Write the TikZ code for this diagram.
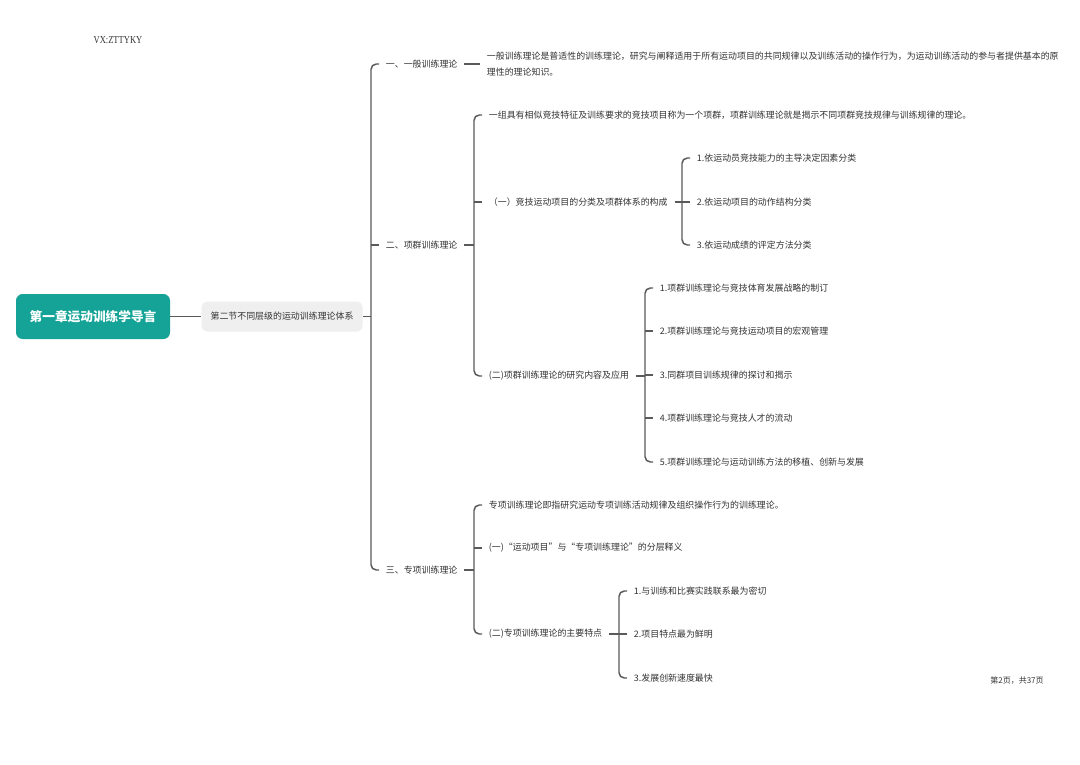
\documentclass[tikz,border=0pt]{standalone}
\usepackage{fontspec}
\setmainfont{Noto Sans CJK SC}
\newfontfamily\markfont[FakeStretch=0.8]{Liberation Serif}
\usetikzlibrary{positioning}
\definecolor{MapTeal}{HTML}{14A396}
\definecolor{MapGray}{HTML}{EFEFEF}
\definecolor{LinkGray}{HTML}{5A5A5A}
\definecolor{InkGray}{HTML}{333333}

\begin{document}
\begin{tikzpicture}[
  x=0.75pt, y=-0.75pt,
  node distance=23.25pt,
  rootbox/.style={rectangle, rounded corners=5pt, fill=MapTeal, text=white, font=\fontsize{9.5}{11}\selectfont\bfseries, minimum width=115.5pt, minimum height=33.75pt, inner sep=0pt},
  sectbox/.style={rectangle, rounded corners=4pt, fill=MapGray, text=InkGray, font=\fontsize{6.7}{8}\selectfont, minimum width=120.75pt, minimum height=22.5pt, inner sep=0pt},
  leaf/.style={anchor=west, text=InkGray, font=\fontsize{6.7}{12}\selectfont, inner xsep=5pt, inner ysep=2pt, align=left},
  link/.style={draw=LinkGray, line width=1.1pt},
  fork/.style={link, rounded corners=4pt},
]
\useasboundingbox (0,0) rectangle (1080,764);
\fill[white] (0,0) rectangle (1080,764);

% marks on the page
\node[text=InkGray, font=\markfont\fontsize{8}{9}\selectfont] (wm) at (118,40) {VX:ZTTYKY};
\node[text=InkGray, font=\fontsize{6}{7}\selectfont] (pg) at (1017,681) {第2页，共37页};

% root and section
\node[rootbox] (root) at (93,316.5) {第一章运动训练学导言};
\node[sectbox, right=of root] (sec) {第二节不同层级的运动训练理论体系};

% bracket columns
\coordinate (k0) at (371,0);
\coordinate (k2) at (474,0);
\coordinate (k2b) at (682,0);
\coordinate (k2c) at (645,0);
\coordinate (k3) at (474,0);
\coordinate (k3c) at (619,0);

% first level
\node[leaf] (g1) at (379,64) {一、一般训练理论};
\node[leaf] (g2) at (379,245) {二、项群训练理论};
\node[leaf] (g3) at (379,570) {三、专项训练理论};

% general theory
\node[leaf] (g1a) at (480,64) {一般训练理论是普适性的训练理论，研究与阐释适用于所有运动项目的共同规律以及训练活动的操作行为，为运动训练活动的参与者提供基本的原\\理性的理论知识。};

% group theory
\node[leaf] (g2a) at (482,115) {一组具有相似竞技特征及训练要求的竞技项目称为一个项群，项群训练理论就是揭示不同项群竞技规律与训练规律的理论。};
\node[leaf] (g2b) at (482,202) {（一）竞技运动项目的分类及项群体系的构成};
\node[leaf] (g2c) at (482,376) {(二)项群训练理论的研究内容及应用};

\node[leaf] (g2b1) at (690,158) {1.依运动员竞技能力的主导决定因素分类};
\node[leaf] (g2b2) at (690,202) {2.依运动项目的动作结构分类};
\node[leaf] (g2b3) at (690,245) {3.依运动成绩的评定方法分类};

\node[leaf] (g2c1) at (653,288) {1.项群训练理论与竞技体育发展战略的制订};
\node[leaf] (g2c2) at (653,331) {2.项群训练理论与竞技运动项目的宏观管理};
\node[leaf] (g2c3) at (653,375) {3.同群项目训练规律的探讨和揭示};
\node[leaf] (g2c4) at (653,418) {4.项群训练理论与竞技人才的流动};
\node[leaf] (g2c5) at (653,462) {5.项群训练理论与运动训练方法的移植、创新与发展};

% special theory
\node[leaf] (g3a) at (482,505) {专项训练理论即指研究运动专项训练活动规律及组织操作行为的训练理论。};
\node[leaf] (g3b) at (482,548) {(一)“运动项目”与“专项训练理论”的分层释义};
\node[leaf] (g3c) at (482,634) {(二)专项训练理论的主要特点};

\node[leaf] (g3c1) at (627,591) {1.与训练和比赛实践联系最为密切};
\node[leaf] (g3c2) at (627,634) {2.项目特点最为鲜明};
\node[leaf] (g3c3) at (627,678) {3.发展创新速度最快};

% connectors
\draw[link] (root) -- (sec);
\draw[link] (sec.east) -- (sec.east -| k0);
\draw[fork] (g1.west) -- ++(-8,0) |- (g3.west);
\draw[link] (g2.west) -- ++(-8,0);

\draw[link] (g1.east) -- (g1a.west);

\draw[link] (g2.east) -- (g2.east -| k2);
\draw[fork] (g2a.west) -- ++(-8,0) |- (g2c.west);
\draw[link] (g2b.west) -- ++(-8,0);

\draw[link] (g2b.east) -- (g2b.east -| k2b);
\draw[fork] (g2b1.west) -- ++(-8,0) |- (g2b3.west);
\draw[link] (g2b2.west) -- ++(-8,0);

\draw[link] (g2c.east) -- (g2c.east -| k2c);
\draw[fork] (g2c1.west) -- ++(-8,0) |- (g2c5.west);
\foreach \c in {g2c2,g2c3,g2c4}
  \draw[link] (\c.west) -- ++(-8,0);

\draw[link] (g3.east) -- (g3.east -| k3);
\draw[fork] (g3a.west) -- ++(-8,0) |- (g3c.west);
\draw[link] (g3b.west) -- ++(-8,0);

\draw[link] (g3c.east) -- (g3c.east -| k3c);
\draw[fork] (g3c1.west) -- ++(-8,0) |- (g3c3.west);
\draw[link] (g3c2.west) -- ++(-8,0);

\end{tikzpicture}
\end{document}
